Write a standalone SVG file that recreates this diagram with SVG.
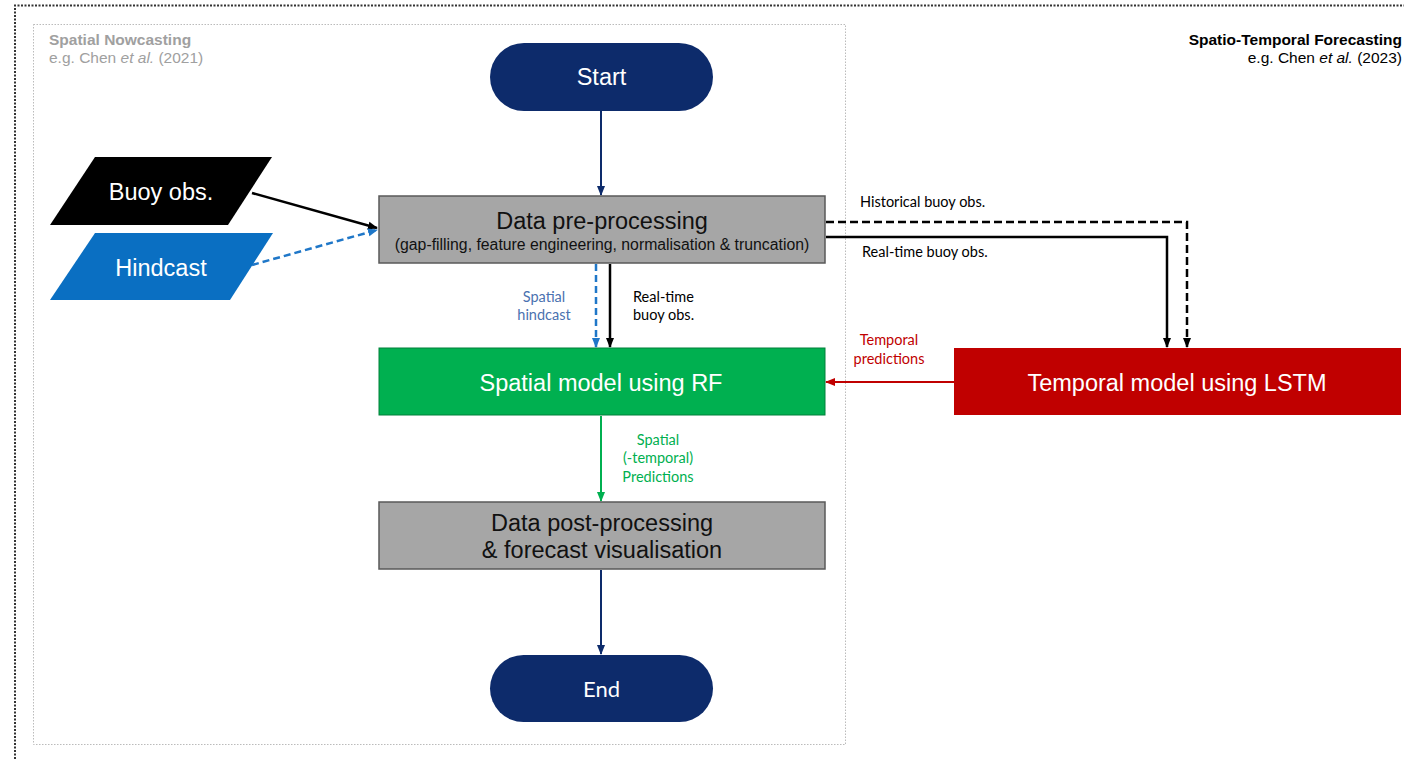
<svg xmlns="http://www.w3.org/2000/svg" width="1404" height="759" viewBox="0 0 1404 759">
<defs>
<style>
.main{font-family:"Liberation Sans",Arial,sans-serif;}
.lbl{font-family:Lato,"Open Sans",sans-serif;font-size:14.5px;}
.wt{fill:#ffffff;font-size:23.5px;font-family:"Liberation Sans",Arial,sans-serif;text-anchor:middle;}
.bt{fill:#111111;font-family:"Liberation Sans",Arial,sans-serif;text-anchor:middle;}
.proc{fill:#A6A6A6;stroke:#595959;stroke-width:1.5;}
.term{fill:#0D2B6B;}
</style>
<marker id="mNavy" markerUnits="userSpaceOnUse" markerWidth="10" markerHeight="10" refX="9" refY="5" orient="auto"><path d="M0,1 L10,5 L0,9 z" fill="#0D2B6B"/></marker>
<marker id="mBlack" markerUnits="userSpaceOnUse" markerWidth="10" markerHeight="10" refX="9" refY="5" orient="auto"><path d="M0,1 L10,5 L0,9 z" fill="#000"/></marker>
<marker id="mBlue" markerUnits="userSpaceOnUse" markerWidth="10" markerHeight="10" refX="9" refY="5" orient="auto"><path d="M0,1 L10,5 L0,9 z" fill="#1F77C8"/></marker>
<marker id="mRed" markerUnits="userSpaceOnUse" markerWidth="10" markerHeight="10" refX="9" refY="5" orient="auto"><path d="M0,1 L10,5 L0,9 z" fill="#C00000"/></marker>
<marker id="mGreen" markerUnits="userSpaceOnUse" markerWidth="10" markerHeight="10" refX="9" refY="5" orient="auto"><path d="M0,1 L10,5 L0,9 z" fill="#00B050"/></marker>
</defs>
<rect width="1404" height="759" fill="#ffffff"/>
<g id="frames">
<path d="M15,759 V5.5 H1404" fill="none" stroke="#333" stroke-width="2" stroke-dasharray="2,1.5"/>
<rect x="33.5" y="24.5" width="812" height="720" fill="none" stroke="#BBBBBB" stroke-width="1" stroke-dasharray="1.5,1.5"/>
<text class="main" x="49" y="45" font-size="15.5" font-weight="bold" fill="#A0A0A0">Spatial Nowcasting</text>
<text class="main" x="49" y="63" font-size="15.5" fill="#A0A0A0">e.g. Chen <tspan font-style="italic">et al.</tspan> (2021)</text>
<text class="main" x="1402" y="45" font-size="15.5" font-weight="bold" fill="#000" text-anchor="end">Spatio-Temporal Forecasting</text>
<text class="main" x="1402" y="63" font-size="15.5" fill="#000" text-anchor="end">e.g. Chen <tspan font-style="italic">et al.</tspan> (2023)</text>
</g>
<g id="connectors" fill="none">
<line x1="601" y1="111" x2="601" y2="195" stroke="#0D2B6B" stroke-width="2" marker-end="url(#mNavy)"/>
<line x1="252" y1="193" x2="377" y2="228" stroke="#000" stroke-width="2.5" marker-end="url(#mBlack)"/>
<line x1="252" y1="265" x2="377" y2="230" stroke="#1F77C8" stroke-width="2.5" stroke-dasharray="7,4" marker-end="url(#mBlue)"/>
<line x1="596" y1="264" x2="596" y2="347" stroke="#1F77C8" stroke-width="2.5" stroke-dasharray="7,4" marker-end="url(#mBlue)"/>
<line x1="610" y1="264" x2="610" y2="347" stroke="#000" stroke-width="2.5" marker-end="url(#mBlack)"/>
<polyline points="826,222 1187,222 1187,347" stroke="#000" stroke-width="2.5" stroke-dasharray="8,4" marker-end="url(#mBlack)"/>
<polyline points="826,237 1167,237 1167,347" stroke="#000" stroke-width="2.5" marker-end="url(#mBlack)"/>
<line x1="954" y1="382" x2="826" y2="382" stroke="#C00000" stroke-width="2" marker-end="url(#mRed)"/>
<line x1="601" y1="416" x2="601" y2="501" stroke="#00B050" stroke-width="2" marker-end="url(#mGreen)"/>
<line x1="601" y1="570" x2="601" y2="654" stroke="#0D2B6B" stroke-width="2" marker-end="url(#mNavy)"/>
<text class="lbl" x="860" y="207" fill="#000">Historical buoy obs.</text>
<text class="lbl" x="862" y="257" fill="#000">Real-time buoy obs.</text>
<text class="lbl" x="544" y="302" fill="#4A72B0" text-anchor="middle">Spatial</text>
<text class="lbl" x="544" y="320" fill="#4A72B0" text-anchor="middle">hindcast</text>
<text class="lbl" x="633" y="302" fill="#000">Real-time</text>
<text class="lbl" x="633" y="320" fill="#000">buoy obs.</text>
<text class="lbl" x="889" y="345" fill="#C00000" text-anchor="middle">Temporal</text>
<text class="lbl" x="889" y="364" fill="#C00000" text-anchor="middle">predictions</text>
<text class="lbl" x="658" y="445" fill="#00B050" text-anchor="middle">Spatial</text>
<text class="lbl" x="658" y="463" fill="#00B050" text-anchor="middle">(-temporal)</text>
<text class="lbl" x="658" y="482" fill="#00B050" text-anchor="middle">Predictions</text>
</g>
<g id="start">
<rect class="term" x="490" y="43" width="223" height="68" rx="34" ry="34"/>
<text class="wt" x="601.5" y="85">Start</text>
</g>
<g id="buoy">
<polygon points="95,157 272,157 228,225 50,225" fill="#000"/>
<text class="wt" x="161" y="200">Buoy obs.</text>
</g>
<g id="hindcast">
<polygon points="95,233 273,233 230,300 50,300" fill="#0A6FC2"/>
<text class="wt" x="161" y="276">Hindcast</text>
</g>
<g id="preprocess">
<rect class="proc" x="379" y="196" width="446" height="67"/>
<text class="bt" x="602" y="229" font-size="23.5">Data pre-processing</text>
<text class="bt" x="602" y="250" font-size="15.8">(gap-filling, feature engineering, normalisation &amp; truncation)</text>
</g>
<g id="spatial">
<rect x="379" y="348" width="446" height="67" fill="#00B050" stroke="#00803A" stroke-width="1"/>
<text class="wt" x="601" y="391">Spatial model using RF</text>
</g>
<g id="temporal">
<rect x="954" y="348" width="447" height="67" fill="#C00000"/>
<text class="wt" x="1177" y="391">Temporal model using LSTM</text>
</g>
<g id="postprocess">
<rect class="proc" x="379" y="502" width="446" height="67"/>
<text class="bt" x="602" y="531" font-size="23.5">Data post-processing</text>
<text class="bt" x="602" y="558" font-size="23.5">&amp; forecast visualisation</text>
</g>
<g id="end">
<rect class="term" x="490" y="655" width="223" height="67" rx="33.5" ry="33.5"/>
<text x="601.5" y="697" fill="#fff" font-size="22" text-anchor="middle" font-family="Lato,'Open Sans',sans-serif">End</text>
</g>
</svg>
